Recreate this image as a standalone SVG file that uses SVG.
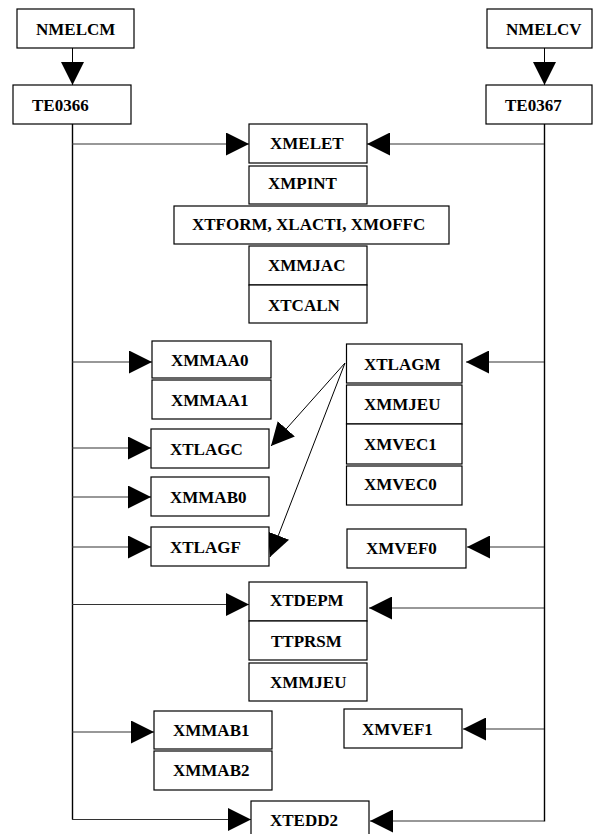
<svg xmlns="http://www.w3.org/2000/svg" width="595" height="834" viewBox="0 0 595 834">
<style>
.box{fill:#fff;stroke:#000;stroke-width:1.2}
.t{font-family:"Liberation Serif","Times New Roman",serif;font-weight:bold;font-size:17px;fill:#000}
.c{fill:none;stroke:#000;stroke-width:1}
.v{fill:none;stroke:#000;stroke-width:1.4}
.h{fill:none;stroke:#333;stroke-width:1.1}
</style>
<defs>
<marker id="ah" markerUnits="userSpaceOnUse" markerWidth="23" markerHeight="23" viewBox="0 0 22 22" refX="22" refY="11" orient="auto">
<path d="M0,0 L22,11 L0,22 z" fill="#000"/>
</marker>
</defs>
<rect width="595" height="834" fill="#fff"/>
<g id="connectors">
<line class="c" x1="72.5" y1="48" x2="72.5" y2="85" marker-end="url(#ah)"/>
<line class="c" x1="544.5" y1="48" x2="544.5" y2="85" marker-end="url(#ah)"/>
<polyline class="v" points="72.5,124 72.5,819.5"/>
<polyline class="v" points="544.5,124 544.5,821.5"/>
<line class="h" x1="72" y1="144" x2="249" y2="144" marker-end="url(#ah)"/>
<line class="h" x1="72" y1="362" x2="152" y2="362" marker-end="url(#ah)"/>
<line class="h" x1="72" y1="448" x2="151" y2="448" marker-end="url(#ah)"/>
<line class="h" x1="72" y1="497" x2="151" y2="497" marker-end="url(#ah)"/>
<line class="h" x1="72" y1="547" x2="151" y2="547" marker-end="url(#ah)"/>
<line class="h" x1="72" y1="604.5" x2="249" y2="604.5" marker-end="url(#ah)"/>
<line class="h" x1="72" y1="732" x2="154" y2="732" marker-end="url(#ah)"/>
<line class="h" x1="72" y1="819.5" x2="251" y2="819.5" marker-end="url(#ah)"/>
<line class="h" x1="544" y1="144" x2="367" y2="144" marker-end="url(#ah)"/>
<line class="h" x1="544" y1="362" x2="466" y2="362" marker-end="url(#ah)"/>
<line class="h" x1="544" y1="547" x2="467" y2="547" marker-end="url(#ah)"/>
<line class="h" x1="544" y1="608" x2="369" y2="608" marker-end="url(#ah)"/>
<line class="h" x1="544" y1="729" x2="463" y2="729" marker-end="url(#ah)"/>
<line class="h" x1="544" y1="821" x2="370" y2="821" marker-end="url(#ah)"/>
<line class="c" x1="345" y1="363" x2="271" y2="446" marker-end="url(#ah)"/>
<line class="c" x1="345" y1="363" x2="270" y2="557" marker-end="url(#ah)"/>
</g>
<g id="NMELCM"><rect class="box" x="17" y="9" width="117" height="39"/><text class="t" x="36" y="35">NMELCM</text></g>
<g id="TE0366"><rect class="box" x="13" y="85" width="118" height="39"/><text class="t" x="32" y="111">TE0366</text></g>
<g id="NMELCV"><rect class="box" x="487" y="9" width="105" height="39"/><text class="t" x="506" y="35">NMELCV</text></g>
<g id="TE0367"><rect class="box" x="486" y="85" width="106" height="39"/><text class="t" x="505" y="111">TE0367</text></g>
<g id="XMELET"><rect class="box" x="249" y="124" width="118" height="39"/><text class="t" x="270" y="149">XMELET</text></g>
<g id="XMPINT"><rect class="box" x="249" y="166" width="118" height="38"/><text class="t" x="268" y="189">XMPINT</text></g>
<g id="XTFORM"><rect class="box" x="174" y="206" width="275" height="38"/><text class="t" x="192" y="230">XTFORM, XLACTI, XMOFFC</text></g>
<g id="XMMJAC"><rect class="box" x="249" y="246" width="118" height="39"/><text class="t" x="268" y="271">XMMJAC</text></g>
<g id="XTCALN"><rect class="box" x="249" y="285" width="118" height="38"/><text class="t" x="268" y="311">XTCALN</text></g>
<g id="XMMAA0"><rect class="box" x="152" y="341" width="119" height="37"/><text class="t" x="171" y="366">XMMAA0</text></g>
<g id="XMMAA1"><rect class="box" x="152" y="380" width="119" height="39"/><text class="t" x="171" y="406">XMMAA1</text></g>
<g id="XTLAGC"><rect class="box" x="151" y="429" width="118" height="39"/><text class="t" x="170" y="455">XTLAGC</text></g>
<g id="XMMAB0"><rect class="box" x="151" y="477" width="118" height="39"/><text class="t" x="170" y="503">XMMAB0</text></g>
<g id="XTLAGF"><rect class="box" x="151" y="527" width="118" height="39"/><text class="t" x="170" y="553">XTLAGF</text></g>
<g id="XTLAGM"><rect class="box" x="346.5" y="344" width="115.5" height="39"/><text class="t" x="364" y="370">XTLAGM</text></g>
<g id="XMMJEU1"><rect class="box" x="346.5" y="385" width="115.5" height="39"/><text class="t" x="364" y="410">XMMJEU</text></g>
<g id="XMVEC1"><rect class="box" x="346.5" y="424" width="115.5" height="40"/><text class="t" x="364" y="450">XMVEC1</text></g>
<g id="XMVEC0"><rect class="box" x="346.5" y="466" width="115.5" height="39"/><text class="t" x="364" y="490">XMVEC0</text></g>
<g id="XMVEF0"><rect class="box" x="347" y="529" width="119" height="39"/><text class="t" x="366" y="554">XMVEF0</text></g>
<g id="XTDEPM"><rect class="box" x="249" y="582" width="118" height="39"/><text class="t" x="270" y="606">XTDEPM</text></g>
<g id="TTPRSM"><rect class="box" x="249" y="621" width="118" height="39"/><text class="t" x="271" y="647">TTPRSM</text></g>
<g id="XMMJEU2"><rect class="box" x="249" y="663" width="118" height="38"/><text class="t" x="270" y="688">XMMJEU</text></g>
<g id="XMMAB1"><rect class="box" x="154" y="711" width="118" height="38"/><text class="t" x="173" y="736">XMMAB1</text></g>
<g id="XMMAB2"><rect class="box" x="154" y="751" width="118" height="39"/><text class="t" x="173" y="776">XMMAB2</text></g>
<g id="XMVEF1"><rect class="box" x="344" y="709" width="118" height="39"/><text class="t" x="362" y="735">XMVEF1</text></g>
<g id="XTEDD2"><rect class="box" x="251" y="801" width="118" height="40"/><text class="t" x="270" y="826">XTEDD2</text></g>
</svg>
